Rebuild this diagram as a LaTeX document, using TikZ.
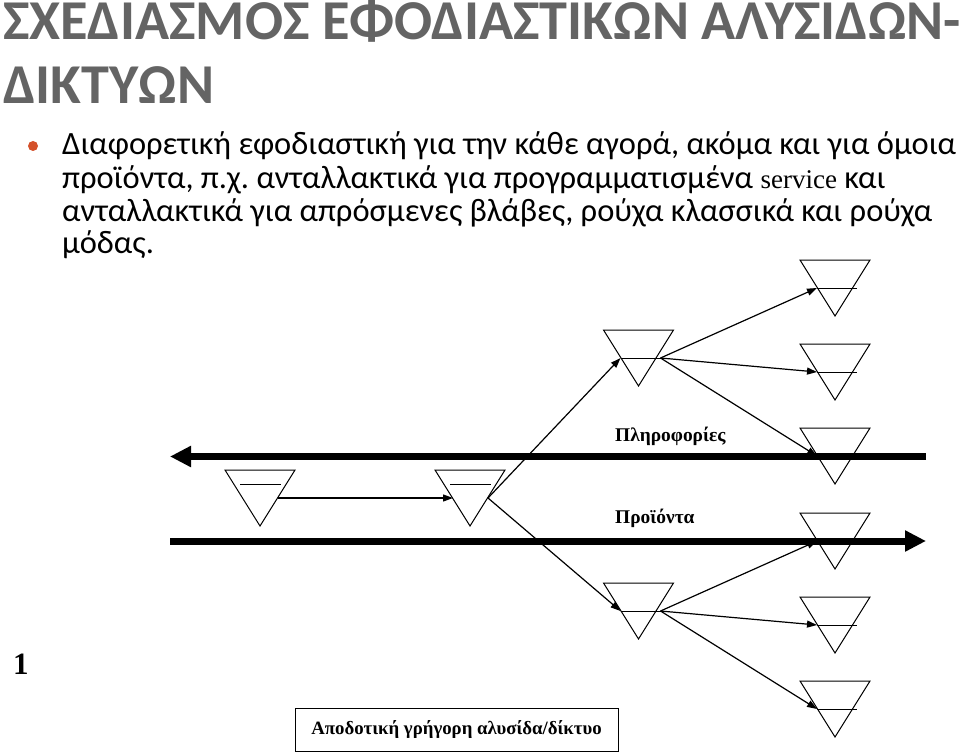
\documentclass[tikz,border=0pt]{standalone}
\usepackage{fontspec}
\setmainfont{Carlito}
\newfontfamily\timesfont{Liberation Serif}
\usetikzlibrary{arrows.meta}
\frenchspacing
\definecolor{titlegray}{HTML}{646464}
\definecolor{bulletred}{HTML}{D4512B}
\tikzset{
  heading/.style = {
    anchor=base west, inner sep=0pt, text=titlegray,
    font=\fontsize{56.3}{65}\selectfont\bfseries
  },
  body/.style = {
    anchor=base west, inner sep=0pt,
    font=\fontsize{32.5}{33}\selectfont
  },
  lbl/.style  = {anchor=base west, inner sep=0pt,
                 font=\timesfont\bfseries\fontsize{19.4}{19}\selectfont},
  tri/.style  = {line width=1pt, line join=miter},
  arr/.style  = {-{Triangle[length=10pt,width=7pt]}, line width=1.2pt},
  flow/.style = {-{Triangle[length=21pt,width=20pt]}, line width=7pt},
  hub/.pic = {
    \draw[tri] (-35,0) -- (35,0) -- (0,56) -- cycle;
    \draw[tri] (-20,14) -- (21,14);
    \coordinate (-in)  at (-17,28);
    \coordinate (-out) at (18,28);
  },
  depot/.pic = {
    \draw[tri] (-35,0) -- (35,0) -- (0,56) -- cycle;
    \draw[tri] (-18,28) coordinate (-in) -- (22,28) coordinate (-out);
  },
}

\begin{document}
\begin{tikzpicture}[x=1pt, y=-1pt]
\useasboundingbox (0,0) rectangle (960,754);

%% ── Title and bullet text ───────────────────────────────────────────────────
\node[heading] (T1) at (3,40)  {ΣΧΕΔΙΑΣΜΟΣ ΕΦΟΔΙΑΣΤΙΚΩΝ ΑΛΥΣΙΔΩΝ-};
\node[heading] (T2) at (3,104) {ΔΙΚΤΥΩΝ};
\node[circle, fill=bulletred, minimum size=10pt, inner sep=0pt] (dot) at (33,146) {};
\node[body] (L1) at (62,155) {Διαφορετική εφοδιαστική για την κάθε αγορά, ακόμα και για όμοια};
\node[body] (L2) at (62,188) {προϊόντα, π.χ. ανταλλακτικά για προγραμματισμένα
  {\timesfont\fontsize{27}{33}\selectfont service} και};
\node[body] (L3) at (62,221) {ανταλλακτικά για απρόσμενες βλάβες, ρούχα κλασσικά και ρούχα};
\node[body] (L4) at (62,253) {μόδας.};

%% ── Flows (information back, products forward) ──────────────────────────────
\coordinate (infoE) at (926,456.5);
\coordinate (infoW) at (170,456.5);
\coordinate (prodW) at (170,541);
\coordinate (prodE) at (926,541);
\draw[flow] (infoE) -- (infoW);
\draw[flow] (prodW) -- (prodE);
\node[lbl] (info) at (615,441) {Πληροφορίες};
\node[lbl] (prod) at (615,523) {Προϊόντα};

%% ── Stock points ────────────────────────────────────────────────────────────
\pic (h1) at (260,470) {hub};
\pic (h2) at (470,470) {hub};
\pic (m1) at (638.5,330) {depot};
\pic (m2) at (638.5,583) {depot};
\foreach \i/\y in {1/260, 2/344, 3/428, 4/513, 5/597, 6/681}
  \pic (r\i) at (835,\y) {depot};

%% ── Links ───────────────────────────────────────────────────────────────────
\draw[arr] (h1-out) -- (h2-in);
\draw[arr] (h2-out) -- (m1-in);
\draw[arr] (h2-out) -- (m2-in);
\foreach \i in {1,2,3} \draw[arr] (m1-out) -- (r\i-in);
\foreach \i in {4,5,6} \draw[arr] (m2-out) -- (r\i-in);

%% ── Page number and caption box ─────────────────────────────────────────────
\node[anchor=base west, inner sep=0pt,
      font=\timesfont\bfseries\fontsize{31}{31}\selectfont] (num) at (13,674) {1};
\node[draw, line width=1pt, minimum width=323pt, minimum height=43pt,
      font=\timesfont\bfseries\fontsize{18.8}{19}\selectfont] (chain) at (456.5,729.5)
      {Αποδοτική γρήγορη αλυσίδα/δίκτυο};

\end{tikzpicture}
\end{document}
